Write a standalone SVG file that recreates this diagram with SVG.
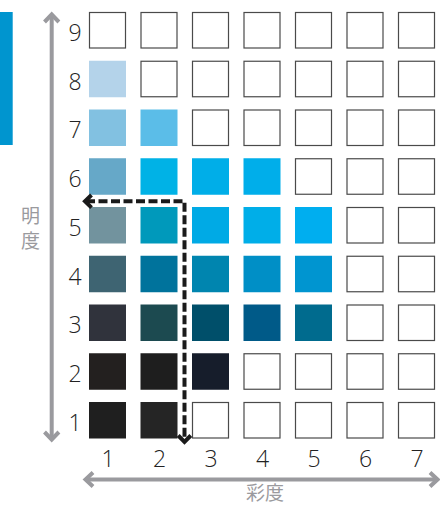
<svg xmlns="http://www.w3.org/2000/svg" width="440" height="506" viewBox="0 0 440 506">
<style>
.e{fill:#fff;stroke:#4a4a4a;stroke-width:1.2}
.num{font-family:"Open Sans","Liberation Sans",sans-serif;font-weight:300;font-size:23px;fill:#222;text-anchor:middle}
.cjk{font-family:"Noto Sans CJK JP","Noto Sans CJK SC",sans-serif;font-size:19px;fill:#9a9a9e}
.ax{fill:none;stroke:#9a9a9e;stroke-width:4}
.dash{fill:none;stroke:#1a1a1a;stroke-width:4;stroke-dasharray:9 3.5}
.head{fill:none;stroke:#1a1a1a;stroke-width:4}
</style>
<rect id="bar" x="0" y="12" width="12.7" height="133" fill="#0095cf"/>
<g id="axes">
<g id="axis-v"><line class="ax" x1="51.7" y1="15" x2="51.7" y2="438"/><polyline class="ax" points="44.5,22 51.7,14.5 58.9,22"/><polyline class="ax" points="44.5,432 51.7,439.5 58.9,432"/></g>
<g id="axis-h"><line class="ax" x1="88" y1="479.5" x2="435" y2="479.5"/><polyline class="ax" points="93,472.5 85.5,479.5 93,486.5"/><polyline class="ax" points="430,472.5 437.5,479.5 430,486.5"/></g>
</g>
<text id="label-v" class="cjk"><tspan x="21" y="223">明</tspan><tspan x="21" y="248">度</tspan></text>
<text id="label-h" class="cjk" x="246" y="500">彩度</text>
<g id="row-labels">
<text class="num" x="75" y="41">9</text>
<text class="num" x="75" y="89.5">8</text>
<text class="num" x="75" y="138.2">7</text>
<text class="num" x="75" y="187">6</text>
<text class="num" x="75" y="235.7">5</text>
<text class="num" x="75" y="284.5">4</text>
<text class="num" x="75" y="333.2">3</text>
<text class="num" x="75" y="382">2</text>
<text class="num" x="75" y="430.7">1</text>
</g>
<g id="col-labels">
<text class="num" x="108" y="467">1</text>
<text class="num" x="159.5" y="467">2</text>
<text class="num" x="211" y="467">3</text>
<text class="num" x="262.5" y="467">4</text>
<text class="num" x="314" y="467">5</text>
<text class="num" x="365.5" y="467">6</text>
<text class="num" x="417" y="467">7</text>
</g>
<g id="cells">
<g id="row9">
<rect class="e" x="89.5" y="12.5" width="36" height="35.5"/>
<rect class="e" x="141" y="12.5" width="36" height="35.5"/>
<rect class="e" x="192.5" y="12.5" width="36" height="35.5"/>
<rect class="e" x="244" y="12.5" width="36" height="35.5"/>
<rect class="e" x="295.5" y="12.5" width="36" height="35.5"/>
<rect class="e" x="347" y="12.5" width="36" height="35.5"/>
<rect class="e" x="398.5" y="12.5" width="36" height="35.5"/>
</g>
<g id="row8">
<rect x="89" y="60.75" width="37" height="36.5" fill="#b4d3ea"/>
<rect class="e" x="141" y="61.25" width="36" height="35.5"/>
<rect class="e" x="192.5" y="61.25" width="36" height="35.5"/>
<rect class="e" x="244" y="61.25" width="36" height="35.5"/>
<rect class="e" x="295.5" y="61.25" width="36" height="35.5"/>
<rect class="e" x="347" y="61.25" width="36" height="35.5"/>
<rect class="e" x="398.5" y="61.25" width="36" height="35.5"/>
</g>
<g id="row7">
<rect x="89" y="109.5" width="37" height="36.5" fill="#82c1e1"/>
<rect x="140.5" y="109.5" width="37" height="36.5" fill="#5bbde8"/>
<rect class="e" x="192.5" y="110" width="36" height="35.5"/>
<rect class="e" x="244" y="110" width="36" height="35.5"/>
<rect class="e" x="295.5" y="110" width="36" height="35.5"/>
<rect class="e" x="347" y="110" width="36" height="35.5"/>
<rect class="e" x="398.5" y="110" width="36" height="35.5"/>
</g>
<g id="row6">
<rect x="89" y="158.25" width="37" height="36.5" fill="#66a8c8"/>
<rect x="140.5" y="158.25" width="37" height="36.5" fill="#00b2e6"/>
<rect x="192" y="158.25" width="37" height="36.5" fill="#00aee8"/>
<rect x="243.5" y="158.25" width="37" height="36.5" fill="#00aeea"/>
<rect class="e" x="295.5" y="158.75" width="36" height="35.5"/>
<rect class="e" x="347" y="158.75" width="36" height="35.5"/>
<rect class="e" x="398.5" y="158.75" width="36" height="35.5"/>
</g>
<g id="row5">
<rect x="89" y="207" width="37" height="36.5" fill="#72939e"/>
<rect x="140.5" y="207" width="37" height="36.5" fill="#0099bb"/>
<rect x="192" y="207" width="37" height="36.5" fill="#00aae5"/>
<rect x="243.5" y="207" width="37" height="36.5" fill="#00aee8"/>
<rect x="295" y="207" width="37" height="36.5" fill="#00aeef"/>
<rect class="e" x="347" y="207.5" width="36" height="35.5"/>
<rect class="e" x="398.5" y="207.5" width="36" height="35.5"/>
</g>
<g id="row4">
<rect x="89" y="255.75" width="37" height="36.5" fill="#3e6472"/>
<rect x="140.5" y="255.75" width="37" height="36.5" fill="#00739c"/>
<rect x="192" y="255.75" width="37" height="36.5" fill="#0085af"/>
<rect x="243.5" y="255.75" width="37" height="36.5" fill="#008fc6"/>
<rect x="295" y="255.75" width="37" height="36.5" fill="#0095d0"/>
<rect class="e" x="347" y="256.25" width="36" height="35.5"/>
<rect class="e" x="398.5" y="256.25" width="36" height="35.5"/>
</g>
<g id="row3">
<rect x="89" y="304.5" width="37" height="36.5" fill="#30333c"/>
<rect x="140.5" y="304.5" width="37" height="36.5" fill="#1c4a50"/>
<rect x="192" y="304.5" width="37" height="36.5" fill="#004f6a"/>
<rect x="243.5" y="304.5" width="37" height="36.5" fill="#005a88"/>
<rect x="295" y="304.5" width="37" height="36.5" fill="#006b8e"/>
<rect class="e" x="347" y="305" width="36" height="35.5"/>
<rect class="e" x="398.5" y="305" width="36" height="35.5"/>
</g>
<g id="row2">
<rect x="89" y="353.25" width="37" height="36.5" fill="#23201f"/>
<rect x="140.5" y="353.25" width="37" height="36.5" fill="#1e1e1e"/>
<rect x="192" y="353.25" width="37" height="36.5" fill="#161d2b"/>
<rect class="e" x="244" y="353.75" width="36" height="35.5"/>
<rect class="e" x="295.5" y="353.75" width="36" height="35.5"/>
<rect class="e" x="347" y="353.75" width="36" height="35.5"/>
<rect class="e" x="398.5" y="353.75" width="36" height="35.5"/>
</g>
<g id="row1">
<rect x="89" y="402" width="37" height="36.5" fill="#1f1f1f"/>
<rect x="140.5" y="402" width="37" height="36.5" fill="#252525"/>
<rect class="e" x="192.5" y="402.5" width="36" height="35.5"/>
<rect class="e" x="244" y="402.5" width="36" height="35.5"/>
<rect class="e" x="295.5" y="402.5" width="36" height="35.5"/>
<rect class="e" x="347" y="402.5" width="36" height="35.5"/>
<rect class="e" x="398.5" y="402.5" width="36" height="35.5"/>
</g>
</g>
<g id="connectors">
<polyline class="dash" points="86,201.3 184.5,201.3 184.5,440"/>
<polyline class="head" points="91.5,195 85,201.3 91.5,207.6"/>
<polyline class="head" points="178.2,435.5 184.5,442 190.8,435.5"/>
</g>
</svg>
